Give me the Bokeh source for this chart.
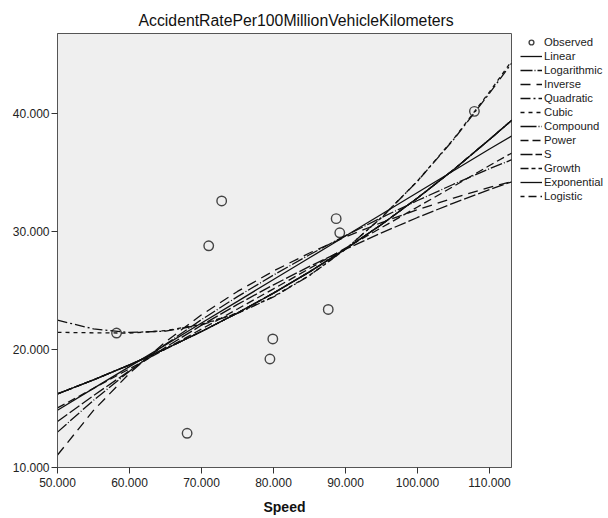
from bokeh.plotting import figure
from bokeh.models import Legend, LegendItem, FixedTicker, PrintfTickFormatter, Title, Range1d
from bokeh.embed import file_html
from bokeh.resources import INLINE

# Observed data
speed = [58.2, 68.0, 71.0, 72.8, 79.5, 79.9, 87.6, 88.7, 89.2, 107.9]
accident_rate = [21.4, 12.9, 28.8, 32.6, 19.2, 20.9, 23.4, 31.1, 29.9, 40.2]

# Fitted curves read at these speeds
fit_speed = [50, 55, 60, 65, 70, 75, 80, 85, 90, 95, 100, 105, 110, 113.1]
linear = [14.86, 16.71, 18.55, 20.40, 22.25, 24.09, 25.94, 27.78, 29.63, 31.47, 33.32, 35.16, 37.01, 38.12]
logarithmic = [13.00, 15.70, 18.17, 20.44, 22.54, 24.49, 26.32, 28.04, 29.66, 31.19, 32.64, 34.02, 35.34, 36.10]
inverse = [11.06, 14.84, 17.99, 20.66, 22.95, 24.93, 26.66, 28.19, 29.55, 30.77, 31.86, 32.85, 33.75, 34.25]
quadratic = [22.49, 21.75, 21.45, 21.56, 22.10, 23.07, 24.46, 26.28, 28.52, 31.19, 34.28, 37.80, 41.74, 44.31]
cubic = [21.46, 21.42, 21.40, 21.60, 22.15, 23.10, 24.50, 26.30, 28.50, 31.20, 34.30, 37.85, 41.85, 44.50]
compound = [16.24, 17.43, 18.70, 20.06, 21.53, 23.10, 24.79, 26.59, 28.53, 30.61, 32.85, 35.25, 37.82, 39.45]
power = [15.05, 16.71, 18.37, 20.05, 21.74, 23.44, 25.15, 26.87, 28.60, 30.34, 32.09, 33.84, 35.61, 36.67]
s_curve = [13.90, 16.10, 18.20, 20.19, 22.06, 23.83, 25.49, 27.05, 28.51, 29.90, 31.20, 32.42, 33.57, 34.23]
growth = [16.24, 17.43, 18.70, 20.06, 21.53, 23.10, 24.79, 26.59, 28.53, 30.61, 32.85, 35.25, 37.82, 39.45]
exponential = [16.24, 17.43, 18.70, 20.06, 21.53, 23.10, 24.79, 26.59, 28.53, 30.61, 32.85, 35.25, 37.82, 39.45]
logistic = [16.24, 17.43, 18.70, 20.06, 21.53, 23.10, 24.79, 26.59, 28.53, 30.61, 32.85, 35.25, 37.82, 39.45]

x_ticks = [50, 60, 70, 80, 90, 100, 110]
y_ticks = [10, 20, 30, 40]

FONT = "Liberation Sans"

p = figure(frame_width=454, frame_height=434, output_backend="svg", toolbar_location=None,
           x_range=Range1d(50, 113.05), y_range=Range1d(10, 46.8),
           min_border_left=57, min_border_right=0, min_border_top=33, min_border_bottom=50)

p.title = Title(text="AccidentRatePer100MillionVehicleKilometers", align="left",
                text_font=FONT, text_font_size="15.8px", text_font_style="normal",
                text_color="#111111", standoff=9, offset=81)

p.background_fill_color = "#EFEFEF"
p.border_fill_color = "white"
p.outline_line_color = "#555555"
p.outline_line_width = 1
p.xgrid.visible = False
p.ygrid.visible = False

for ax in (p.xaxis[0], p.yaxis[0]):
    ax.major_label_text_font = FONT
    ax.major_label_text_font_size = "12px"
    ax.major_label_text_color = "#222222"
    ax.axis_line_color = "#555555"
    ax.major_tick_line_color = "#333333"
    ax.major_tick_out = 6
    ax.major_tick_in = 0
    ax.minor_tick_line_color = None
    ax.formatter = PrintfTickFormatter(format="%.3f")

p.xaxis.ticker = FixedTicker(ticks=x_ticks)
p.yaxis.ticker = FixedTicker(ticks=y_ticks)
p.xaxis.major_label_standoff = 4
p.yaxis.major_label_standoff = 2
p.xaxis.axis_label = "Speed"
p.xaxis.axis_label_text_font = FONT
p.xaxis.axis_label_text_font_size = "14px"
p.xaxis.axis_label_text_font_style = "bold"
p.xaxis.axis_label_text_color = "#111111"
p.xaxis.axis_label_standoff = 9

obs = p.scatter(speed, accident_rate, marker="circle", size=9.5, fill_color=None,
                line_color="#444444", line_width=1.4)

styles = [
    ("Linear", linear, "solid"),
    ("Logarithmic", logarithmic, "12 2 1 2"),
    ("Inverse", inverse, "10 6"),
    ("Quadratic", quadratic, "10 3 2 3"),
    ("Cubic", cubic, "4 4"),
    ("Compound", compound, "16 2 1 2"),
    ("Power", power, "8 4"),
    ("S", s_curve, "12 3"),
    ("Growth", growth, "8 3 4 3"),
    ("Exponential", exponential, "solid"),
    ("Logistic", logistic, "4 4 8 4"),
]

items = [LegendItem(label="Observed", renderers=[obs])]
for name, vals, dash in styles:
    r = p.line(fit_speed, vals, line_color="#111111", line_width=1.3, line_dash=dash)
    items.append(LegendItem(label=name, renderers=[r]))

legend = Legend(items=items, location=(9, 265), border_line_color=None,
                background_fill_alpha=0, label_text_font=FONT, label_text_font_size="11.3px",
                label_text_color="#222222", glyph_width=22, glyph_height=12,
                label_height=12, spacing=2, padding=0, margin=0, label_standoff=2)
p.add_layout(legend, "right")

open("out.html", "w").write(file_html(p, INLINE))
